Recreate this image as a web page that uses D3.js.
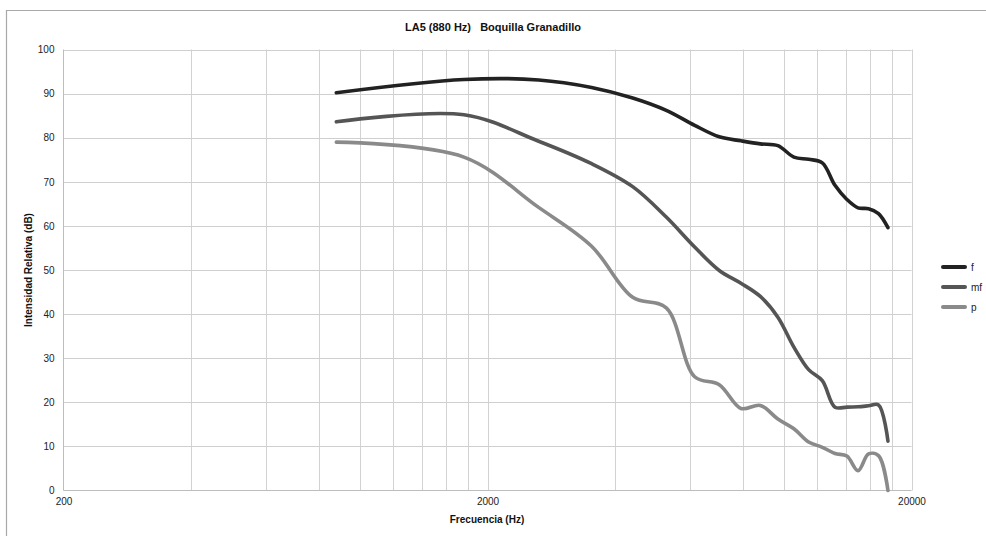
<!DOCTYPE html>
<html>
<head>
<meta charset="utf-8">
<script src="https://cdn.jsdelivr.net/npm/d3@7"></script>
<style>
  html, body { margin: 0; padding: 0; background: #fff; }
  svg { display: block; font-family: "Liberation Sans", Arial, sans-serif; }
</style>
</head>
<body>
<svg id="chart" width="986" height="536"></svg>
<script>
// ---- Data ----
const frequencies = [880, 1760, 2640, 3520, 4400, 5280, 6160, 7040, 7920, 8800,
                     9680, 10560, 11440, 12320, 13200, 14080, 14960, 15840, 16720, 17600];
const fValues  = [90.2, 93.2, 93.1, 91.4, 89.0, 86.2, 82.8, 80.2, 79.3, 78.6,
                  78.2, 75.6, 75.1, 74.3, 69.2, 66.0, 64.1, 63.9, 62.8, 59.6];
const mfValues = [83.6, 85.2, 79.2, 74.1, 68.9, 62.0, 55.2, 49.9, 47.0, 44.0,
                  39.3, 32.5, 27.4, 24.9, 18.9, 18.9, 19.0, 19.2, 19.4, 11.2];
const pValues  = [79.0, 75.6, 64.2, 55.4, 43.8, 41.4, 25.8, 24.0, 18.6, 19.3,
                  16.2, 14.0, 11.0, 9.8, 8.4, 7.8, 4.5, 8.3, 7.9, 0.0];
const seriesNames = ["f", "mf", "p"];
const xTickLabels = [200, 2000, 20000];
const yTickLabels = [0, 10, 20, 30, 40, 50, 60, 70, 80, 90, 100];
const gridMultipliers = [2, 3, 4, 5, 6, 7, 8, 9, 10];

const titleText = "LA5 (880 Hz)   Boquilla Granadillo";
const xLabel = "Frecuencia (Hz)";
const yLabel = "Intensidad Relativa (dB)";

// ---- Layout ----
const svg = d3.select("#chart");
const pLeft = 63.5, pRight = 911.5, pTop = 49.5, pBottom = 490.5;
const colors = { f: "#222222", mf: "#555555", p: "#8a8a8a" };

const x = d3.scaleLog().domain([200, 20000]).range([pLeft, pRight]);
const y = d3.scaleLinear().domain([0, 100]).range([pBottom, pTop]);

// outer frame
svg.append("path")
  .attr("d", "M6.5,540 L6.5,10.5 L986,10.5")
  .attr("fill", "none").attr("stroke", "#a8a8a8").attr("stroke-width", 1.2);

// title
svg.append("text")
  .attr("x", 493).attr("y", 31)
  .attr("text-anchor", "middle")
  .attr("font-size", 11).attr("font-weight", "bold").attr("fill", "#111")
  .style("white-space", "pre")
  .text(titleText);

const g = svg.append("g");

// vertical grid lines
const gridFreqs = [];
[200, 2000].forEach(base => gridMultipliers.forEach(m => gridFreqs.push(base * m)));
g.selectAll(".vgrid").data(gridFreqs).enter().append("line")
  .attr("x1", d => Math.round(x(d)) + 0.5).attr("x2", d => Math.round(x(d)) + 0.5)
  .attr("y1", pTop).attr("y2", pBottom)
  .attr("stroke", "#d2d2d2").attr("stroke-width", 1);

// horizontal grid lines
g.selectAll(".hgrid").data(yTickLabels.filter(v => v > 0)).enter().append("line")
  .attr("x1", pLeft).attr("x2", pRight)
  .attr("y1", d => Math.round(y(d)) + 0.5).attr("y2", d => Math.round(y(d)) + 0.5)
  .attr("stroke", "#cfcfcf").attr("stroke-width", 1);

// axis lines
g.append("line").attr("x1", pLeft).attr("x2", pLeft).attr("y1", pTop).attr("y2", pBottom)
  .attr("stroke", "#bdbdbd");
g.append("line").attr("x1", pLeft).attr("x2", pRight).attr("y1", pBottom).attr("y2", pBottom)
  .attr("stroke", "#bdbdbd");

// y axis labels
const yAxis = d3.axisLeft(y).tickValues(yTickLabels).tickSize(0).tickPadding(9);
const yg = svg.append("g").attr("transform", `translate(${pLeft},0)`).call(yAxis);
yg.select(".domain").remove();
yg.selectAll("text").attr("font-size", 10).attr("fill", "#222")
  .attr("font-family", "'Liberation Sans', Arial, sans-serif");

// x axis labels
const xAxis = d3.axisBottom(x).tickValues(xTickLabels).tickFormat(d3.format("d")).tickSize(0).tickPadding(7);
const xg = svg.append("g").attr("transform", `translate(0,${pBottom})`).call(xAxis);
xg.select(".domain").remove();
xg.selectAll("text").attr("font-size", 10).attr("fill", "#222")
  .attr("font-family", "'Liberation Sans', Arial, sans-serif");

// axis titles
svg.append("text")
  .attr("x", 487).attr("y", 523)
  .attr("text-anchor", "middle")
  .attr("font-size", 10).attr("font-weight", "bold").attr("fill", "#111")
  .text(xLabel);
svg.append("text")
  .attr("transform", "translate(32,270) rotate(-90)")
  .attr("text-anchor", "middle")
  .attr("font-size", 10).attr("font-weight", "bold").attr("fill", "#111")
  .text(yLabel);

// series
const series = [
  { name: "f", values: fValues },
  { name: "mf", values: mfValues },
  { name: "p", values: pValues }
];
const line = d3.line()
  .x(d => x(d[0])).y(d => y(d[1]))
  .curve(d3.curveCatmullRom.alpha(0.5));

svg.selectAll(".series").data(series.slice().reverse()).enter().append("path")
  .attr("d", s => line(frequencies.map((f, i) => [f, s.values[i]])))
  .attr("fill", "none")
  .attr("stroke", s => colors[s.name])
  .attr("stroke-width", 3.6)
  .attr("stroke-linecap", "round")
  .attr("stroke-linejoin", "round");

// legend
const legend = svg.append("g");
seriesNames.forEach((n, i) => {
  const ly = 267 + i * 20;
  legend.append("line")
    .attr("x1", 943).attr("x2", 965).attr("y1", ly).attr("y2", ly)
    .attr("stroke", colors[n]).attr("stroke-width", 4).attr("stroke-linecap", "round");
  legend.append("text")
    .attr("x", 971).attr("y", ly + 4)
    .attr("font-size", 10).attr("fill", "#222")
    .text(n);
});
</script>
</body>
</html>
